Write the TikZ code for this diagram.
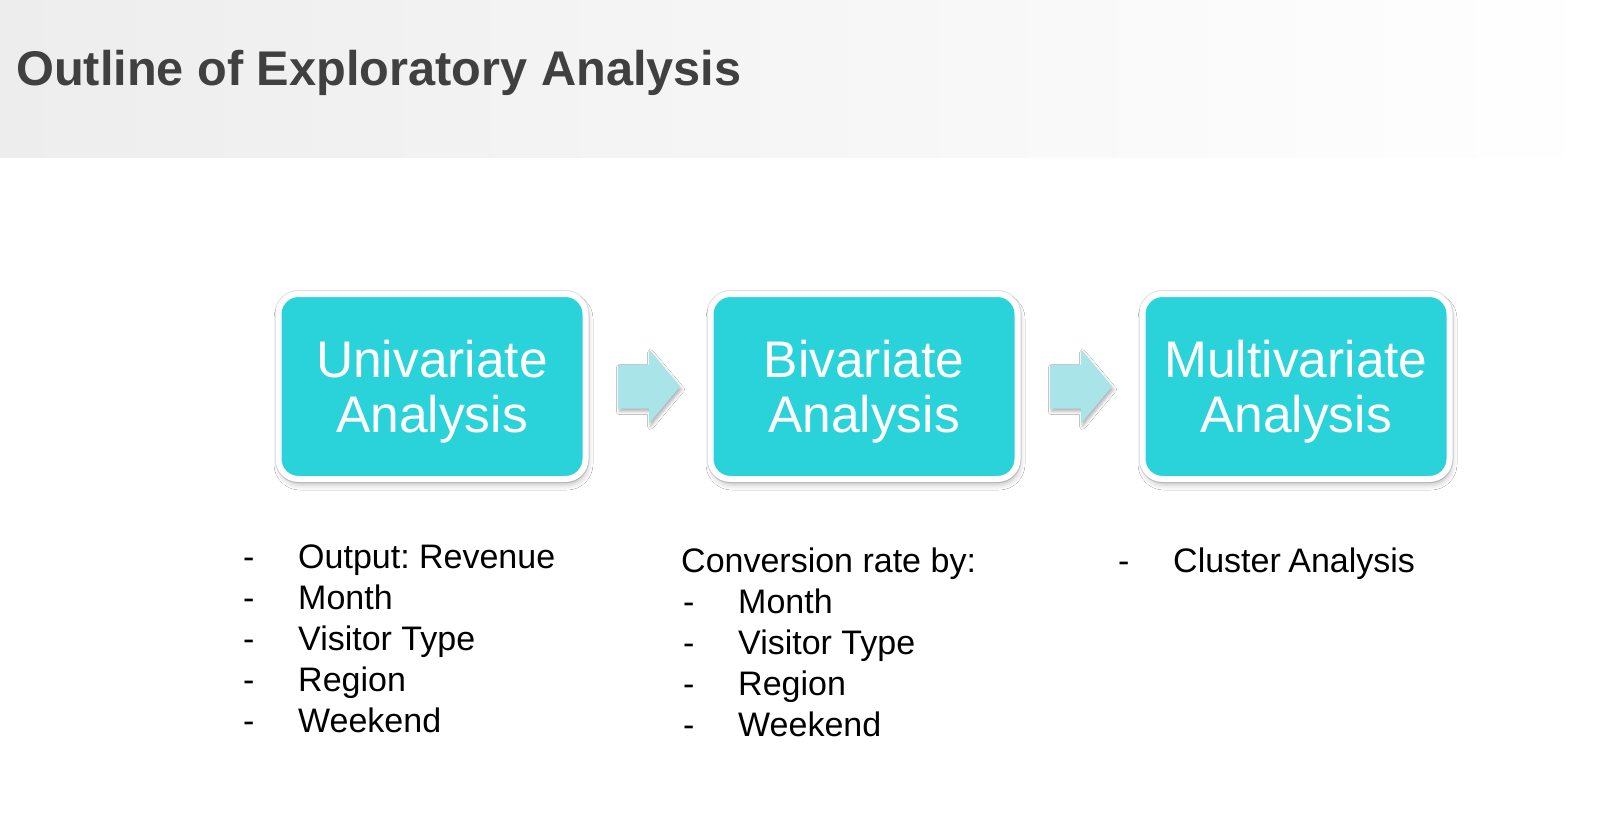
\documentclass[tikz,border=0pt]{standalone}
\usepackage{fontspec}
\setmainfont{Liberation Sans}
\usetikzlibrary{calc,shadows.blur}
\definecolor{boxc}{HTML}{2AD3DA}
\definecolor{arrc}{HTML}{A9E4E8}
\definecolor{titlec}{HTML}{404040}
\definecolor{bandc}{HTML}{EDEDED}
\begin{document}
\frenchspacing
\begin{tikzpicture}[x=1pt,y=-1pt,
  stagebox/.style={draw=white, line width=6pt, fill=boxc, rounded corners=20pt,
    minimum width=307pt, minimum height=185pt, inner sep=0pt,
    preaction={draw=black!12, line width=8pt},
    blur shadow={shadow xshift=1.5pt, shadow yshift=-5pt, shadow blur radius=6pt, shadow opacity=30}},
  stagetext/.style={text=white, align=center, inner sep=0pt, font=\fontsize{51.5}{54.5}\selectfont},
  listtext/.style={anchor=base west, inner sep=0pt, font=\fontsize{34}{40}\selectfont, text=black},
  flowarrow/.style={fill=arrc,
    blur shadow={shadow xshift=1.5pt, shadow yshift=-3pt, shadow blur radius=3pt, shadow opacity=30}},
  titletext/.style={anchor=base west, inner sep=0pt, text=titlec, font=\fontsize{48.7}{56}\selectfont\bfseries}
]
\useasboundingbox (0,0) rectangle (1608,840);
\fill[white] (0,0) rectangle (1608,840);
\shade[left color=bandc, right color=white] (0,0) rectangle (1608,157);

\node[titletext] (title) at (16,86) {Outline of Exploratory Analysis};

\node[stagebox] (b1) at (432,386.5) {};
\node[stagebox] (b2) at (864,386.5) {};
\node[stagebox] (b3) at (1296,386.5) {};
\node[stagetext, yshift=-5pt] (s1) at (b1.center) {Univariate\\Analysis};
\node[stagetext, yshift=-5pt] (s2) at (b2.center) {Bivariate\\Analysis};
\node[stagetext, yshift=-5pt] (s3) at (b3.center) {Multivariate\\Analysis};

\coordinate (a1) at ($(b1.east)!0.5!(b2.west)$);
\coordinate (a2) at ($(b2.east)!0.5!(b3.west)$);
\foreach \a in {a1,a2}{
  \path[flowarrow] ($(\a)+(-30,-22)$) -- ($(\a)+(1,-22)$) -- ($(\a)+(1,-37)$)
    -- ($(\a)+(32,0)$) -- ($(\a)+(1,37)$) -- ($(\a)+(1,22)$) -- ($(\a)+(-30,22)$) -- cycle;
}

% left list
\node[listtext] (d11) at (243,568) {-};
\node[listtext] (t11) at (298,568) {Output: Revenue};
\node[listtext] (d12) at (243,609) {-};
\node[listtext] (t12) at (298,609) {Month};
\node[listtext] (d13) at (243,650) {-};
\node[listtext] (t13) at (298,650) {Visitor Type};
\node[listtext] (d14) at (243,691) {-};
\node[listtext] (t14) at (298,691) {Region};
\node[listtext] (d15) at (243,732) {-};
\node[listtext] (t15) at (298,732) {Weekend};

% middle list
\node[listtext] (t20) at (681,572) {Conversion rate by:};
\node[listtext] (d22) at (683,613) {-};
\node[listtext] (t22) at (738,613) {Month};
\node[listtext] (d23) at (683,654) {-};
\node[listtext] (t23) at (738,654) {Visitor Type};
\node[listtext] (d24) at (683,695) {-};
\node[listtext] (t24) at (738,695) {Region};
\node[listtext] (d25) at (683,736) {-};
\node[listtext] (t25) at (738,736) {Weekend};

% right list
\node[listtext] (d31) at (1118,572) {-};
\node[listtext] (t31) at (1173,572) {Cluster\kern-2pt\ Analysis};
\end{tikzpicture}
\end{document}
